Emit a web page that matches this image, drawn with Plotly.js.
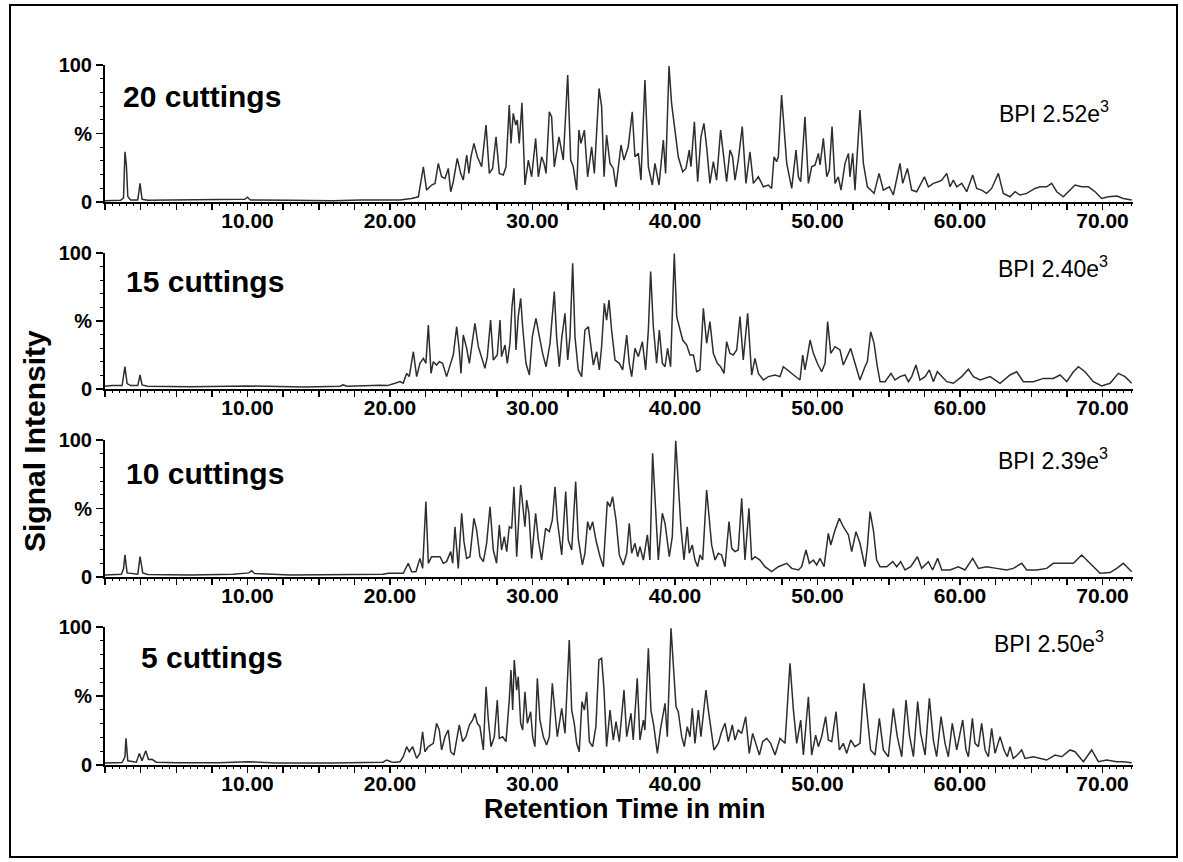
<!DOCTYPE html>
<html>
<head>
<meta charset="utf-8">
<script src="https://cdn.plot.ly/plotly-3.0.1.min.js"></script>
<style>html,body{margin:0;padding:0;background:#fff}#chart{width:1183px;height:862px}</style>
</head>
<body>
<div id="chart"></div>
<script>
// ---------- DATA ----------
const panelLabels = ['20 cuttings', '15 cuttings', '10 cuttings', '5 cuttings'];
const bpiLabels = ['BPI 2.52e<sup>3</sup>', 'BPI 2.40e<sup>3</sup>', 'BPI 2.39e<sup>3</sup>', 'BPI 2.50e<sup>3</sup>'];
const xTickValues = [10, 20, 30, 40, 50, 60, 70];
const xTickLabels = ['10.00', '20.00', '30.00', '40.00', '50.00', '60.00', '70.00'];
const yTickValues = [0, 50, 100];
const yTickLabels = ['0', '%', '100'];
const xTitle = 'Retention Time in min';
const yTitle = 'Signal Intensity';

// 20 cuttings
const time20 = [0,1.1,1.3,1.4,1.5,1.6,1.8,2.3,2.46,2.6,3.0,5,7,9,9.8,10.0,10.2,13,16,18,20,20.7,21.5,21.99,
22.34,22.57,22.92,23.16,23.39,23.62,23.86,24.09,24.26,24.44,24.72,24.96,25.14,25.38,25.54,25.68,25.89,26.13,26.43,26.74,
26.97,27.20,27.44,27.67,27.95,28.14,28.37,28.49,28.65,28.82,28.93,29.07,29.26,29.47,29.71,29.94,30.22,30.41,30.64,30.81,
30.95,31.18,31.34,31.53,31.86,32.16,32.47,32.68,32.86,33.10,33.26,33.40,33.64,33.87,34.15,34.34,34.67,34.85,35.02,35.20,
35.44,35.67,35.86,36.21,36.42,36.72,37.00,37.19,37.43,37.61,37.89,38.13,38.41,38.59,38.88,39.18,39.34,39.58,39.76,40.00,
40.23,40.54,40.77,41.00,41.12,41.36,41.59,41.82,42.03,42.22,42.45,42.69,42.92,43.20,43.39,43.62,43.86,44.04,44.21,44.44,
44.72,44.98,45.26,45.50,45.85,46.20,46.55,46.78,46.95,47.13,47.25,47.48,
47.84,48.19,48.49,48.66,48.82,49.12,49.36,49.59,49.83,50.06,50.18,50.41,50.65,50.83,51.02,51.23,51.46,51.65,51.93,52.17,
52.28,52.47,52.63,52.98,53.22,53.50,53.73,53.97,54.32,54.62,55.04,55.32,55.79,55.98,56.31,56.61,56.96,57.50,57.78,58.13,
58.48,58.72,59.07,59.30,59.53,59.77,60.12,60.47,60.89,61.17,61.52,61.87,62.22,62.69,63.04,63.51,63.86,64.21,64.68,65.26,
65.62,66.08,66.43,66.79,67.25,67.72,68.07,68.54,69.01,69.48,69.94,70.41,71.00,71.46,72.05];
const signal20 = [1.0,1.2,3,36.7,27,4,1.5,1.5,13.6,2,1.2,1.3,1.5,1.8,2,3.5,1.5,1.2,1.0,1.5,1.5,1.4,2.5,3.8,
25.7,8.7,12.4,13.6,28.2,18.4,17.2,24.5,7.5,14.8,31.8,20.9,16.0,34.3,20.9,33.0,42.8,33.0,25.7,56.2,
20.9,24.5,47.6,20.9,19.7,25.7,70.8,42.8,64.7,56.2,59.8,42.8,72.5,12.4,30.6,18.4,46.4,18.4,33.0,28.2,
20.9,65.9,62.2,25.7,47.6,30.6,92.7,30.6,25.7,8.7,52.5,42.8,52.5,18.4,40.3,20.9,82.9,69.6,18.4,48.9,
28.2,24.5,11.1,41.6,30.6,40.3,65.9,33.0,35.5,16.0,89.0,25.7,12.4,28.2,12.4,45.2,20.9,99.2,72.0,50.1,
33.0,22.1,24.5,37.9,25.7,58.6,14.8,47.6,57.4,40.3,13.6,29.4,16.0,52.5,33.0,14.8,37.9,33.0,16.0,30.6,
55.0,13.6,36.7,13.6,18.4,11.1,12.4,9.9,33.0,29.4,33.0,78.1,
28.2,9.9,37.9,18.4,14.8,62.2,13.6,25.7,27.0,35.5,27.0,46.4,18.4,23.3,55.0,13.6,18.4,8.7,28.2,35.5,
18.4,35.5,8.7,67.1,28.2,11.1,8.7,6.3,20.9,8.7,11.1,5.1,28.2,13.6,24.5,8.7,7.5,18.4,11.1,13.6,
14.8,16.0,20.9,11.1,16.0,11.1,13.6,7.5,19.7,9.9,8.7,6.3,9.9,20.9,6.3,3.8,7.5,5.1,6.3,9.9,
11.1,11.1,13.6,7.5,3.8,8.7,12.4,11.1,11.1,7.5,2.6,3.8,4.3,2.6,1.4];

// 15 cuttings
const time15 = [0,0.5,1.2,1.4,1.55,1.8,2.3,2.46,2.6,3,6,10,14,16.5,16.7,17.0,19.3,19.8,20.3,20.7,
20.93,21.17,21.35,21.64,21.87,22.10,22.34,22.52,22.69,22.88,23.04,23.27,23.46,23.69,23.97,24.21,24.44,24.68,24.86,24.98,
25.14,25.38,25.57,25.73,25.96,26.20,26.43,26.66,26.83,27.06,27.25,27.53,27.72,27.83,28.07,28.23,28.42,28.56,28.70,28.84,
29.00,29.17,29.31,29.54,29.78,29.99,30.24,30.48,30.71,30.95,31.23,31.53,31.69,31.88,32.05,32.28,32.47,32.63,32.82,32.98,
33.21,33.45,33.68,33.92,34.08,34.27,34.50,34.69,34.85,35.04,35.20,35.37,35.55,35.79,36.09,36.33,36.61,36.79,36.96,37.19,
37.43,37.71,37.94,38.13,38.29,38.48,38.71,38.90,39.11,39.30,39.48,39.69,39.95,40.12,40.30,40.54,40.82,41.05,41.29,41.52,
41.75,41.99,42.22,42.45,42.69,42.97,43.20,43.44,43.62,43.86,44.09,44.33,44.56,44.79,45.10,45.38,45.61,45.85,46.20,46.55,
47.02,47.37,
47.60,47.90,48.19,48.42,48.77,48.96,49.12,49.29,49.48,49.71,49.99,50.29,50.53,50.71,50.93,51.23,51.58,51.81,52.05,52.33,
52.63,52.98,53.33,53.50,53.73,53.97,54.20,54.39,54.74,55.16,55.44,55.79,56.14,56.38,56.61,56.91,57.19,57.55,57.85,58.13,
58.41,58.72,59.07,59.53,60.12,60.59,60.94,61.41,62.11,62.81,63.51,63.98,64.45,65.15,65.85,66.55,67.02,67.49,67.96,68.31,
68.77,69.36,69.94,70.53,71.11,71.58,72.05];
const signal15 = [2.0,2.5,2.5,16.4,4,2.5,2.5,10.3,3,2,1.7,2.2,1.5,2.0,3,2,2.8,2.5,4,5.4,
4.2,11.5,9.1,27.4,9.1,18.9,22.5,18.9,47.0,11.5,20.1,17.6,20.1,18.9,9.1,17.6,25.0,45.8,28.7,11.5,
39.7,29.9,18.9,31.1,48.3,31.1,23.8,15.2,23.8,50.7,21.3,25.0,50.7,23.8,32.3,18.9,33.6,60.5,74.0,28.7,
53.2,66.7,45.8,18.9,10.3,38.5,51.9,38.5,26.2,16.4,33.6,71.6,38.5,16.4,37.2,55.6,21.3,38.5,92.4,38.5,
14.0,9.1,43.4,45.8,33.6,17.6,27.4,14.0,31.1,63.0,50.7,65.4,43.4,21.3,18.9,14.0,39.7,18.9,9.1,29.9,
23.8,34.8,14.0,43.4,86.3,45.8,18.9,43.4,18.9,16.4,29.9,16.4,99.7,53.2,45.8,36.0,32.3,25.0,25.0,12.7,
14.0,59.3,33.6,49.5,26.2,18.9,16.4,11.5,34.8,26.2,25.0,28.7,53.2,21.3,55.6,10.3,22.5,11.5,6.6,9.1,
10.3,9.1,
16.4,13.9,11.5,9.1,6.6,25.0,14.0,23.8,36.0,26.2,18.9,12.7,18.9,49.5,26.2,31.1,28.7,17.6,23.8,29.9,
18.9,6.6,16.4,20.1,42.1,33.6,16.4,5.4,5.4,11.5,6.6,9.1,10.3,5.4,9.1,17.6,6.6,9.1,14.0,5.4,
12.7,9.1,5.4,4.2,9.1,14.5,9.1,6.6,9.1,4.2,10.3,12.7,5.4,5.4,7.8,7.8,10.3,5.4,12.7,16.4,
12.7,5.4,2.2,4.2,11.5,9.1,4.2];

// 10 cuttings
const time10 = [0,1.15,1.3,1.4,1.55,2.3,2.46,2.65,3,6,9,10.1,10.29,10.5,13,17,19.5,19.9,20.4,20.7,
20.93,21.28,21.52,21.82,22.10,22.29,22.52,22.69,22.92,23.27,23.51,23.74,23.97,24.26,24.40,24.56,24.79,25.03,25.19,25.38,
25.61,25.89,26.08,26.31,26.55,26.78,27.02,27.25,27.48,27.67,27.83,28.02,28.19,28.37,28.54,28.70,28.89,29.17,29.31,29.47,
29.59,29.75,29.94,30.22,30.41,30.64,30.92,31.18,31.39,31.58,31.74,32.05,32.33,32.51,32.75,33.03,33.21,33.50,33.68,33.87,
34.03,34.22,34.45,34.74,34.97,35.25,35.44,35.62,35.86,36.09,36.37,36.61,36.79,36.96,37.19,37.38,37.54,37.78,38.06,38.24,
38.43,38.66,38.83,39.11,39.30,39.60,39.81,40.05,40.23,40.42,40.63,40.86,41.00,41.21,41.40,41.59,41.75,41.94,42.22,42.45,
42.57,42.81,43.04,43.27,43.51,43.79,43.98,44.21,44.44,44.68,44.91,45.19,45.38,45.61,45.96,46.31,46.78,47.25,
47.84,48.19,48.66,48.89,49.19,49.43,49.71,49.94,50.18,50.46,50.76,50.93,51.23,51.53,51.81,52.17,52.40,52.70,52.98,53.33,
53.50,53.69,53.92,54.15,54.39,54.86,55.28,55.56,55.84,56.14,56.54,57.01,57.31,57.78,58.08,58.43,58.72,59.30,59.88,60.35,
60.89,61.29,61.87,62.57,63.28,63.74,64.33,64.68,65.38,66.08,66.55,67.25,67.96,68.54,69.13,69.83,70.53,71.00,71.46,72.05];
const signal10 = [1.5,2,6,16.1,3,2,14.8,3,1.8,1.5,2,3,4.6,2.5,1.5,1.8,2.0,2.7,2.7,2.2,
2.7,10.0,3.9,3.9,13.6,6.3,55.0,10.0,14.8,14.8,14.8,10.0,11.2,18.5,10.0,36.7,6.3,46.5,25.8,13.6,
14.8,42.8,34.3,14.8,11.2,24.6,51.3,19.7,10.0,38.0,19.7,29.4,18.5,36.7,35.5,65.9,14.8,67.2,53.8,36.7,
56.2,46.5,13.6,46.5,27.0,12.4,35.5,33.1,41.6,65.9,41.6,16.1,62.3,27.0,19.7,69.6,28.2,8.8,17.3,40.4,
34.3,40.4,27.0,14.8,7.5,55.0,51.3,58.6,41.6,16.1,8.8,17.3,39.2,17.3,24.6,14.8,22.1,12.4,30.7,12.4,
90.3,41.6,12.4,46.5,39.2,14.8,29.4,99.5,63.5,35.5,12.4,36.7,17.3,23.4,12.4,7.5,16.1,12.4,63.5,34.3,
23.4,12.4,17.3,16.1,7.5,40.4,20.9,18.5,19.7,57.4,12.4,50.1,12.4,14.8,12.4,7.5,3.9,7.5,
10.0,6.3,5.1,7.5,19.7,10.0,12.4,8.8,13.6,7.5,31.9,23.4,34.3,42.8,36.7,30.7,18.5,33.1,24.6,7.5,
22.1,47.7,34.3,12.4,7.5,7.5,11.2,7.5,11.2,5.1,7.5,14.8,6.3,11.2,5.1,13.6,5.1,5.1,7.5,5.1,
13.6,6.3,7.5,6.3,5.1,6.3,10.0,5.1,5.1,6.3,10.0,10.0,10.0,16.1,10.0,2.7,3.2,6.3,10.0,3.9];

// 5 cuttings
const time5 = [0,1.2,1.4,1.47,1.6,2.2,2.41,2.6,2.86,3.05,3.3,3.6,5,8,10.06,12,16,19.5,19.77,20.1,20.4,20.7,
20.93,21.17,21.35,21.59,21.87,22.10,22.29,22.45,22.69,23.04,23.27,23.46,23.62,23.86,24.09,24.26,24.49,24.63,24.86,25.10,
25.33,25.57,25.80,25.96,26.13,26.31,26.55,26.74,26.90,27.09,27.32,27.53,27.67,27.90,28.14,28.37,28.49,28.61,28.72,28.89,
29.00,29.17,29.31,29.47,29.64,29.87,30.01,30.17,30.34,30.52,30.76,30.99,31.18,31.39,31.58,31.74,32.05,32.28,32.58,32.75,
32.93,33.10,33.28,33.47,33.64,33.80,33.99,34.22,34.45,34.66,34.85,35.02,35.20,35.44,35.67,35.86,36.09,36.42,36.61,36.91,
37.07,37.35,37.54,37.78,37.89,38.13,38.31,38.52,38.76,38.99,39.30,39.46,39.72,39.93,40.07,40.23,40.47,40.65,40.86,41.05,
41.21,41.40,41.64,41.82,42.03,42.17,42.34,42.57,42.73,43.04,43.27,43.51,43.74,44.02,44.21,44.44,44.68,44.96,45.21,45.45,
45.68,45.92,46.15,46.43,46.71,47.02,47.37,47.72,
48.07,48.31,48.54,48.82,49.01,49.36,49.59,49.87,50.06,50.29,50.57,50.76,51.00,51.30,51.53,51.81,52.05,52.33,52.63,52.98,
53.26,53.50,53.73,54.04,54.34,54.62,54.97,55.32,55.60,55.91,56.21,56.45,56.73,57.03,57.24,57.55,57.85,58.13,58.36,58.67,
58.95,59.18,59.46,59.77,60.19,60.42,60.59,60.87,61.05,61.29,61.52,61.76,61.99,62.22,62.46,62.81,63.09,63.32,63.51,63.74,
64.02,64.33,64.56,65.15,65.62,66.08,66.67,67.14,67.72,68.07,68.66,69.24,69.71,70.29,71.00,71.46,72.05];
const signal5 = [1.5,1.8,6,19.3,3,2,8.4,3,10.4,4,4.1,2,1.7,1.7,2.4,1.5,1.5,2,3.6,2.2,2,2.4,
6.0,13.3,9.6,13.3,4.8,8.4,24.1,9.6,13.3,15.7,30.2,25.3,10.9,20.5,25.3,9.6,7.2,15.7,29.0,16.9,
20.5,29.0,32.6,37.4,30.2,27.8,10.9,56.7,32.6,13.3,20.5,47.1,19.3,20.5,16.9,47.1,68.8,39.8,76.1,54.3,
64.0,30.2,25.3,53.1,30.2,38.6,20.5,13.3,62.8,32.6,20.5,14.5,20.5,59.2,39.8,20.5,41.0,22.9,90.6,39.8,
30.2,15.7,9.6,45.9,39.8,53.1,16.9,13.3,27.8,76.1,77.3,54.3,13.3,39.8,18.1,31.4,16.9,54.3,20.5,37.4,
18.1,62.8,18.1,32.6,25.3,84.5,39.8,27.8,8.4,26.5,44.7,20.5,99.0,64.0,42.3,38.6,20.5,13.3,27.8,20.5,
41.0,15.7,39.8,20.5,42.3,54.3,39.8,22.9,10.9,15.7,24.1,30.2,16.9,29.0,18.1,25.3,22.9,35.0,8.4,22.9,
15.7,7.2,16.9,19.3,15.7,7.2,19.3,15.7,
73.7,39.8,15.7,32.6,7.2,49.5,7.2,21.7,13.3,20.5,35.0,18.1,16.9,38.6,10.9,15.7,8.4,18.1,13.3,15.7,
59.2,32.6,10.9,7.2,33.8,10.9,6.0,41.0,20.5,6.0,47.1,21.7,6.0,45.9,22.9,7.2,48.3,18.1,6.0,35.0,
15.7,6.0,30.2,10.9,32.6,10.9,6.0,33.8,15.7,13.3,30.2,10.9,6.0,26.5,8.4,20.5,10.9,6.0,13.3,4.8,
7.2,10.9,4.8,6.0,4.8,3.6,7.2,6.0,10.9,9.6,2.4,10.9,2.4,3.6,2.4,2.4,1.7];

const seriesTimes = [time20, time15, time10, time5];
const seriesSignals = [signal20, signal15, signal10, signal5];

// ---------- LAYOUT (pixel geometry of the figure) ----------
const W = 1183, H = 862;
const axisLeft = 105, axisRight = 1133;
const panelPx = [[65, 202], [253, 389], [440, 577], [627, 765]]; // top(100%) / bottom(0%)
const xMax = 72.14;
const fx = p => p / W;
const fy = p => 1 - p / H;
const fontFam = 'Liberation Sans, Arial, Helvetica, sans-serif';

const traces = [];
const layout = {
  width: W, height: H,
  margin: {l: 0, r: 0, t: 0, b: 0, pad: 0},
  paper_bgcolor: '#fff', plot_bgcolor: 'rgba(0,0,0,0)',
  showlegend: false,
  font: {family: fontFam, color: '#000'},
  annotations: [],
  shapes: [{
    type: 'rect', xref: 'paper', yref: 'paper',
    x0: fx(10), x1: fx(1177), y0: fy(857), y1: fy(5),
    line: {color: '#000', width: 2}, fillcolor: 'rgba(0,0,0,0)'
  }]
};

const labelPos = [[121, 97], [124, 281], [124, 473], [139, 657]];
const bpiPos = [[997, 112], [996, 267], [996, 459], [992, 642]];

for (let i = 0; i < 4; i++) {
  const n = i === 0 ? '' : String(i + 1);
  const m = String(i + 5); // overlay axis for fine (0.5 min) ticks
  traces.push({
    x: seriesTimes[i], y: seriesSignals[i],
    xaxis: 'x' + n, yaxis: 'y' + n,
    type: 'scatter', mode: 'lines',
    line: {color: '#2e2e2e', width: 1.5},
    hoverinfo: 'skip'
  });
  traces.push({x: [], y: [], xaxis: 'x' + m, yaxis: 'y' + n, type: 'scatter', mode: 'lines', hoverinfo: 'skip'});
  const [top, bot] = panelPx[i];
  layout['xaxis' + n] = {
    domain: [fx(axisLeft), fx(axisRight)],
    range: [0, xMax],
    anchor: 'y' + n,
    showline: true, linecolor: '#000', linewidth: 2,
    showgrid: false, zeroline: false,
    ticks: 'outside', ticklen: 6, tickwidth: 1.5, tickcolor: '#000',
    tickmode: 'array', tickvals: xTickValues, ticktext: xTickLabels,
    ticklabelstandoff: -7,
    tickfont: {family: fontFam, size: 21, weight: 700, color: '#000'},
    minor: {ticks: 'outside', tickmode: 'linear', tick0: 0, dtick: 2.5, ticklen: 6, tickwidth: 1.5, tickcolor: '#000', showgrid: false},
    fixedrange: true
  };
  layout['xaxis' + m] = {
    domain: [fx(axisLeft), fx(axisRight)],
    range: [0, xMax],
    anchor: 'y' + n, overlaying: 'x' + n, side: 'bottom',
    showline: false, showgrid: false, zeroline: false, showticklabels: false,
    ticks: 'outside', ticklen: 3, tickwidth: 1, tickcolor: '#000',
    tickmode: 'linear', tick0: 0, dtick: 0.5,
    fixedrange: true
  };
  layout['yaxis' + n] = {
    domain: [fy(bot), fy(top)],
    range: [0, 100],
    anchor: 'x' + n,
    showline: true, linecolor: '#000', linewidth: 2,
    showgrid: false, zeroline: false,
    ticks: 'outside', ticklen: 7, tickwidth: 1.5, tickcolor: '#000',
    tickmode: 'array', tickvals: yTickValues, ticktext: yTickLabels,
    tickfont: {family: fontFam, size: 20, weight: 700, color: '#000'},
    minor: {ticks: 'outside', tickmode: 'linear', tick0: 0, dtick: 10, ticklen: 3, tickwidth: 1, tickcolor: '#000', showgrid: false},
    fixedrange: true
  };
  layout.annotations.push({
    xref: 'paper', yref: 'paper', x: fx(labelPos[i][0]), y: fy(labelPos[i][1]),
    xanchor: 'left', yanchor: 'middle', showarrow: false,
    text: panelLabels[i],
    font: {family: fontFam, size: 30, weight: 700, color: '#000'}
  });
  layout.annotations.push({
    xref: 'paper', yref: 'paper', x: fx(bpiPos[i][0]), y: fy(bpiPos[i][1]),
    xanchor: 'left', yanchor: 'middle', showarrow: false,
    text: bpiLabels[i],
    font: {family: fontFam, size: 23, color: '#000'}
  });
}

layout.annotations.push({
  xref: 'paper', yref: 'paper', x: fx(34), y: fy(441),
  xanchor: 'center', yanchor: 'middle', showarrow: false, textangle: -90,
  text: yTitle, font: {family: fontFam, size: 30, weight: 700, color: '#000'}
});
layout.annotations.push({
  xref: 'paper', yref: 'paper', x: fx(625), y: fy(809),
  xanchor: 'center', yanchor: 'middle', showarrow: false,
  text: xTitle, font: {family: fontFam, size: 27, weight: 700, color: '#000'}
});

Plotly.newPlot('chart', traces, layout, {staticPlot: true, displayModeBar: false});
</script>
</body>
</html>
